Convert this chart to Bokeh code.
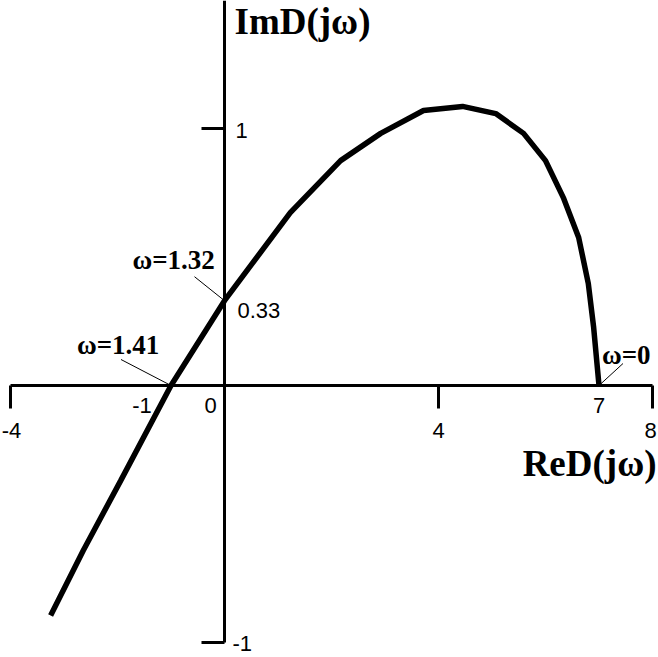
from bokeh.plotting import figure
from bokeh.models import Range1d
from bokeh.core.properties import value
from bokeh.embed import file_html
from bokeh.resources import INLINE

# ---- data ----
re_vals = [-3.25, -2.64, -1.94, -1.0, 0.0, 1.23, 2.17, 2.92, 3.72, 4.45, 5.07, 5.59, 6.0, 6.34, 6.62, 6.80, 6.90, 7.0]
im_vals = [-0.895, -0.642, -0.37, 0.0, 0.33, 0.673, 0.875, 0.981, 1.07, 1.086, 1.058, 0.981, 0.875, 0.728, 0.576, 0.397, 0.226, 0.0]

x_outer_ticks = [-4, 4, 8]
x_outer_labels = ["-4", "4", "8"]
x_inner_pos = [-1, 0, 7]
x_inner_labels = ["-1", "0", "7"]
y_ticks = [1, -1]
y_tick_labels = ["1", "-1"]
y_mark = [0.33]
y_mark_labels = ["0.33"]
omega_re = [-1, 0, 7]
omega_im = [0, 0.33, 0]
omega_labels = ["\u03c9=1.41", "\u03c9=1.32", "\u03c9=0"]
x_title = "ReD(j\u03c9)"
y_title = "ImD(j\u03c9)"

# ---- layout (page pixels -> data) ----
W, H = 658, 657
X0PX, SX = 224.0, 53.5    # page x of Re=0, px per unit
Y0PX, SY = 385.0, 257.0   # page y of Im=0, px per unit
xr = Range1d(-X0PX / SX, (W - X0PX) / SX)
yr = Range1d((Y0PX - H) / SY, Y0PX / SY)

p = figure(width=W, height=H, x_range=xr, y_range=yr, output_backend="svg",
           toolbar_location=None, x_axis_type=None, y_axis_type=None,
           min_border=0, margin=(0, 0, 0, 0))
p.outline_line_color = None
p.grid.visible = False
p.background_fill_color = "white"
p.border_fill_color = "white"

sans = value("Liberation Sans")
serif = value("Liberation Serif")

# axes
p.segment(x0=[x_outer_ticks[0]], y0=[0], x1=[x_outer_ticks[-1]], y1=[0], line_color="black", line_width=3)
p.segment(x0=[0], y0=[min(y_ticks)], x1=[0], y1=[yr.end], line_color="black", line_width=3)
tick_dy = 23 / SY
tick_dx = 23 / SX
p.segment(x0=x_outer_ticks, y0=[0] * 3, x1=x_outer_ticks, y1=[-tick_dy] * 3, line_color="black", line_width=3)
p.segment(x0=[0] * 2, y0=y_ticks, x1=[-tick_dx] * 2, y1=y_ticks, line_color="black", line_width=3)

# curve
p.line(re_vals, im_vals, line_color="black", line_width=5.5)

# tick labels
p.text(x=x_outer_ticks, y=[0] * 3, text=x_outer_labels, text_font=sans, text_font_size="22px",
       text_align="center", text_baseline="middle", y_offset=45, x_offset=[1, 0, -2])
p.text(x=x_inner_pos, y=[0] * 3, text=x_inner_labels, text_font=sans, text_font_size="22px",
       text_align="center", text_baseline="middle", y_offset=20, x_offset=[-29, -14, 0])
p.text(x=[0] * 2, y=y_ticks, text=y_tick_labels, text_font=sans, text_font_size="22px",
       text_align="left", text_baseline="middle", x_offset=[11, 8], y_offset=[2, 1])
p.text(x=[0], y=y_mark, text=y_mark_labels, text_font=sans, text_font_size="22px",
       text_align="left", text_baseline="middle", x_offset=13, y_offset=10)

# titles
p.text(x=[0], y=[yr.end], text=[y_title], text_font=serif, text_font_style="bold",
       text_font_size="37px", text_align="left", text_baseline="top", x_offset=10, y_offset=0)
p.text(x=[x_outer_ticks[-1]], y=[0], text=[x_title], text_font=serif, text_font_style="bold",
       text_font_size="37px", text_align="right", text_baseline="middle", x_offset=4, y_offset=78)

# omega annotations: leader lines and labels
lead_dx = [-50, -30, 24]
lead_dy = [26, 24, 22]
p.segment(x0=omega_re, y0=omega_im,
          x1=[r + d / SX for r, d in zip(omega_re, lead_dx)],
          y1=[i + d / SY for i, d in zip(omega_im, lead_dy)],
          line_color="black", line_width=1)
p.text(x=omega_re, y=omega_im, text=omega_labels, text_font=serif, text_font_style="bold",
       text_font_size="27px", text_align="left", text_baseline="middle",
       x_offset=[-94, -92, 3], y_offset=[-41, -41, -31])

open("out.html", "w").write(file_html(p, INLINE))
